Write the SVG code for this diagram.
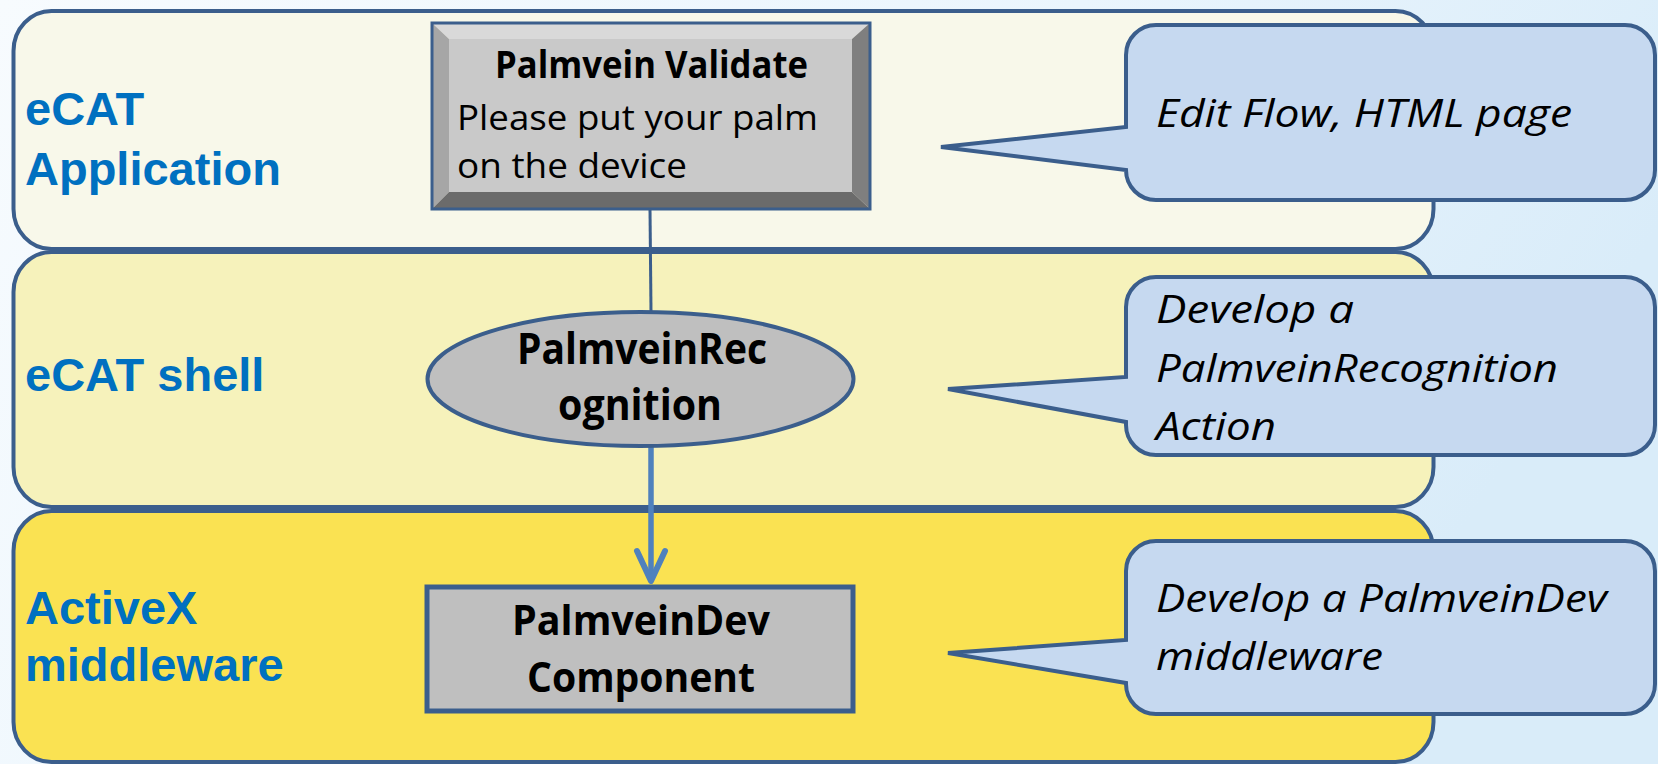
<svg xmlns="http://www.w3.org/2000/svg" width="1658" height="764" viewBox="0 0 1658 764">
<defs>
<linearGradient id="bg" x1="0" y1="0" x2="1" y2="0.3">
<stop offset="0" stop-color="#f7fbfe"/>
<stop offset="0.6" stop-color="#eaf5fd"/>
<stop offset="1" stop-color="#d9ecf9"/>
</linearGradient>
<marker id="chev" markerUnits="userSpaceOnUse" markerWidth="40" markerHeight="40" refX="29" refY="20" orient="auto" overflow="visible">
<path d="M2,6 L32,20 L2,34" fill="none" stroke="#4f81bd" stroke-width="6" stroke-linecap="round" stroke-linejoin="round"/>
</marker>
<style>
.lane{stroke:#3b5e8c;stroke-width:4}
.lbl{font-family:"Liberation Sans",Arial,sans-serif;font-weight:bold;font-size:47px;fill:#0070c0}
.nb{font-family:"Open Sans","Noto Sans",sans-serif;font-weight:bold;fill:#000;text-anchor:middle}
.nr{font-family:"Open Sans","Noto Sans",sans-serif;fill:#000;font-size:35px}
.call{fill:#c6d9f0;stroke:#3b5e8c;stroke-width:4;stroke-linejoin:miter}
.ct{font-family:"Open Sans","Noto Sans",sans-serif;font-style:italic;font-size:39px;fill:#000}
.node{fill:#bfbfbf;stroke:#3b5e8c}
</style>
</defs>
<rect x="0" y="0" width="1658" height="764" fill="url(#bg)"/>

<g id="lane-application">
<rect class="lane" x="13.5" y="11" width="1420" height="238" rx="38" ry="40" fill="#f8f8ea"/>
<text class="lbl" x="25" y="125">eCAT</text>
<text class="lbl" x="25" y="185">Application</text>
</g>
<g id="lane-shell">
<rect class="lane" x="13.5" y="252" width="1420" height="255" rx="38" ry="40" fill="#f6f2bb"/>
<text class="lbl" x="25" y="391">eCAT shell</text>
</g>
<g id="lane-middleware">
<rect class="lane" x="13.5" y="511" width="1420" height="251" rx="38" ry="40" fill="#fae252"/>
<text class="lbl" x="25" y="624">ActiveX</text>
<text class="lbl" x="25" y="681">middleware</text>
</g>

<g id="connectors">
<line x1="650" y1="209" x2="651" y2="312" stroke="#3b5e8c" stroke-width="3"/>
<line x1="651" y1="446" x2="651" y2="578" stroke="#4f81bd" stroke-width="5.5" marker-end="url(#chev)"/>
</g>

<g id="node-palmvein-validate">
<polygon points="432,23 870,23 852,39 449,39" fill="#d9d9d9"/>
<polygon points="432,23 449,39 449,192 432,209" fill="#a6a6a6"/>
<polygon points="870,23 870,209 852,192 852,39" fill="#7f7f7f"/>
<polygon points="432,209 449,192 852,192 870,209" fill="#6b6b6b"/>
<rect x="449" y="39" width="403" height="153" fill="#c9c9c9"/>
<rect x="432" y="23" width="438" height="186" fill="none" stroke="#3b5e8c" stroke-width="3"/>
<text class="nb" x="651.5" y="78" font-size="38" textLength="313" lengthAdjust="spacingAndGlyphs">Palmvein Validate</text>
<text class="nr" x="457" y="130" textLength="361" lengthAdjust="spacingAndGlyphs">Please put your palm</text>
<text class="nr" x="457" y="178" textLength="230" lengthAdjust="spacingAndGlyphs">on the device</text>
</g>

<g id="node-palmvein-recognition">
<ellipse class="node" cx="640.5" cy="379" rx="213" ry="67" stroke-width="4"/>
<text class="nb" x="642" y="364" font-size="43" textLength="250" lengthAdjust="spacingAndGlyphs">PalmveinRec</text>
<text class="nb" x="640" y="420" font-size="43" textLength="164" lengthAdjust="spacingAndGlyphs">ognition</text>
</g>

<g id="node-palmvein-dev">
<rect class="node" x="427" y="587" width="426" height="124" stroke-width="5"/>
<text class="nb" x="641" y="635" font-size="42" textLength="258" lengthAdjust="spacingAndGlyphs">PalmveinDev</text>
<text class="nb" x="641" y="692" font-size="42" textLength="228" lengthAdjust="spacingAndGlyphs">Component</text>
</g>

<g id="callout-edit-flow">
<path class="call" d="M1156,25 H1625 A30,30 0 0 1 1655,55 V170 A30,30 0 0 1 1625,200 H1156 A30,30 0 0 1 1126,170 L941,147 L1126,127 V55 A30,30 0 0 1 1156,25 Z"/>
<text class="ct" x="1156" y="127" textLength="416" lengthAdjust="spacingAndGlyphs">Edit Flow, HTML page</text>
</g>

<g id="callout-develop-action">
<path class="call" d="M1156,277 H1625 A30,30 0 0 1 1655,307 V425 A30,30 0 0 1 1625,455 H1156 A30,30 0 0 1 1126,425 V422 L948,389 L1126,377 V307 A30,30 0 0 1 1156,277 Z"/>
<text class="ct" x="1156" y="323" textLength="198" lengthAdjust="spacingAndGlyphs">Develop a</text>
<text class="ct" x="1156" y="382" textLength="402" lengthAdjust="spacingAndGlyphs">PalmveinRecognition</text>
<text class="ct" x="1156" y="440" textLength="120" lengthAdjust="spacingAndGlyphs">Action</text>
</g>

<g id="callout-develop-middleware">
<path class="call" d="M1156,541 H1625 A30,30 0 0 1 1655,571 V684 A30,30 0 0 1 1625,714 H1156 A30,30 0 0 1 1126,684 V683 L948,653 L1126,640 V571 A30,30 0 0 1 1156,541 Z"/>
<text class="ct" x="1156" y="612" textLength="451" lengthAdjust="spacingAndGlyphs">Develop a PalmveinDev</text>
<text class="ct" x="1156" y="670" textLength="227" lengthAdjust="spacingAndGlyphs">middleware</text>
</g>
</svg>
